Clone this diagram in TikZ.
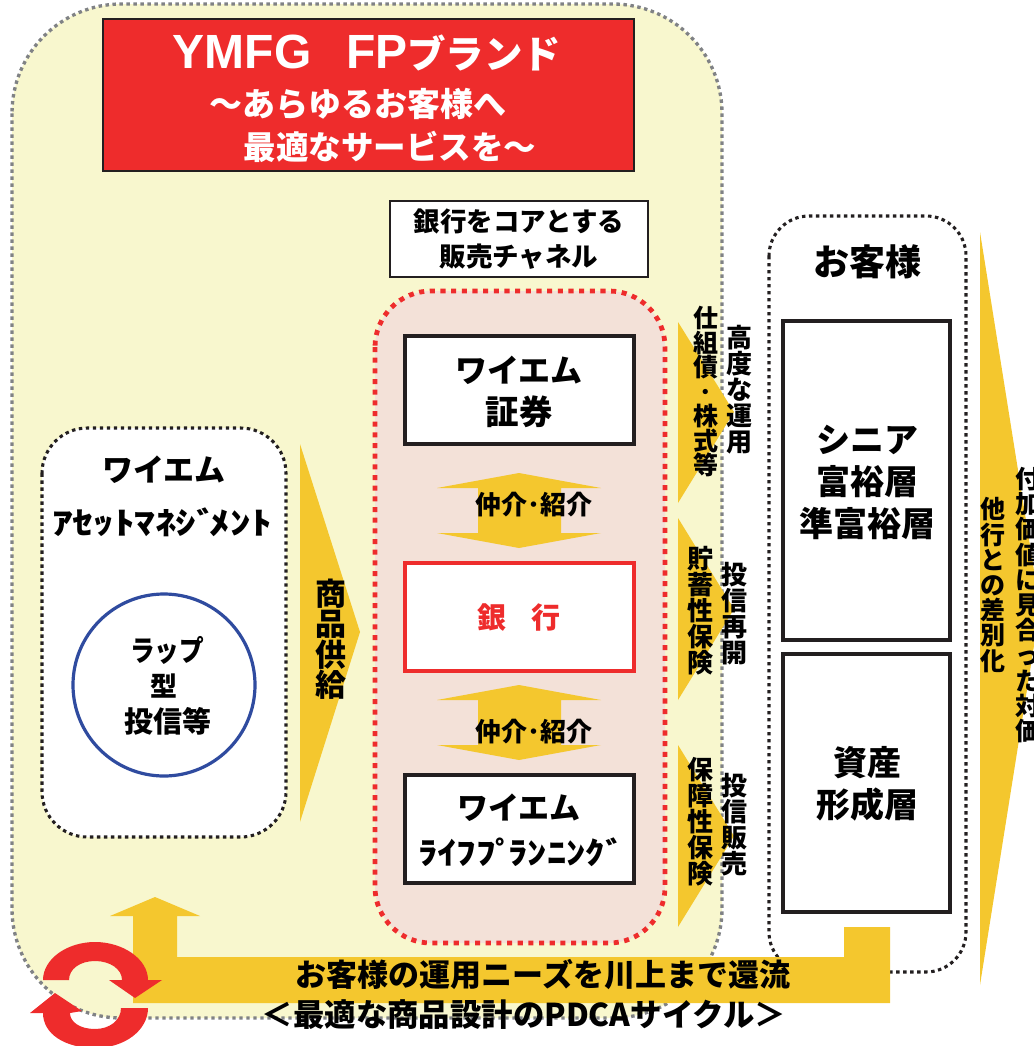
\documentclass[tikz,border=0pt]{standalone}
\usepackage{fontspec}
\usepackage{graphicx}
\setmainfont{Noto Sans CJK JP}
\newfontfamily\latfont{Liberation Sans}
\newcommand\fz[2]{\fontsize{\fpeval{0.75*#1}}{\fpeval{0.75*#2}}\selectfont\bfseries}
\definecolor{arrowy}{HTML}{F4C72E}
\definecolor{paley}{HTML}{F8F7CE}
\definecolor{palep}{HTML}{F3E1D8}
\definecolor{redm}{HTML}{EE2C2C}
\definecolor{grayd}{HTML}{808285}
\definecolor{darkl}{HTML}{231F20}
\definecolor{bluec}{HTML}{2F4B9F}
\tikzset{
  txt/.style={inner sep=0pt,align=center,text=black},
  hbox/.style={draw=darkl,line width=2.7pt,fill=white},
  arrowfill/.style={fill=arrowy,draw=none},
  graydot/.style={draw=grayd,line width=2.5pt,dash pattern=on 2.6pt off 2.65pt},
  blackdot/.style={draw=darkl,line width=2.3pt,dash pattern=on 2.6pt off 2.65pt},
  reddot/.style={draw=redm,line width=3.6pt,dash pattern=on 3.8pt off 4.2pt},
}
\begin{document}
\begin{tikzpicture}[x=0.75pt,y=-0.75pt]
\useasboundingbox (0,0) rectangle (1033,1046);
% outer panels
\path[fill=paley,graydot,rounded corners=82pt] (12,4) rectangle (722,1018);
\draw[fill=redm,draw=darkl,line width=1.6pt] (103,19) rectangle (634,171);
\draw[fill=white,draw=darkl,line width=1.6pt] (390,201) rectangle (648,277);
\path[fill=palep,reddot,rounded corners=42pt] (375,291) rectangle (665,943);
\path[fill=white,blackdot,rounded corners=34pt] (42,428) rectangle (286,837);
\path[fill=white,blackdot,rounded corners=30pt] (769,216) rectangle (966,972);
% inner boxes
\draw[hbox] (405,336) rectangle (634,444);
\draw[hbox,draw=redm] (405,563) rectangle (634,671);
\draw[hbox] (405,775) rectangle (634,883);
\draw[hbox] (783,321) rectangle (950,640);
\draw[hbox] (783,654) rectangle (950,912);
\draw[draw=bluec,line width=2.4pt,fill=white] (164,685) circle [radius=91];
% arrows
\fill[arrowfill] (300,444) -- (360,632) -- (300,822) -- cycle;
\fill[arrowfill] (519,473) -- (601,488) -- (561,488) -- (561,533) -- (601,533) -- (519,548) -- (437,533) -- (478,533) -- (478,488) -- (437,488) -- cycle;
\fill[arrowfill] (519,685) -- (601,700) -- (561,700) -- (561,745) -- (601,745) -- (519,760) -- (437,745) -- (478,745) -- (478,700) -- (437,700) -- cycle;
\fill[arrowfill] (678,322) -- (734,412) -- (678,503) -- cycle;
\fill[arrowfill] (678,518) -- (734,609) -- (678,700) -- cycle;
\fill[arrowfill] (678,745) -- (734,836) -- (678,927) -- cycle;
\fill[arrowfill] (980,232) -- (1040,608) -- (980,985) -- cycle;
\fill[arrowfill] (133,916) -- (133,1003) -- (890,1003) -- (890,927) -- (844,927) -- (844,957) -- (177,957) -- (177,916) -- (200,916) -- (155,897) -- (110,916) -- cycle;
% cycle arrows
\fill[redm] (43,980) .. controls (43,959) and (67,942) .. (95,942) .. controls (123,942) and (148,959) .. (148,980) -- (162,980) -- (135,998) -- (109,980) -- (122,980) .. controls (122,969) and (110,961) .. (95,961) .. controls (80,961) and (69,969) .. (69,980) -- cycle;
\fill[redm] (30,1013) -- (55,993) -- (82,1011) -- (70,1013) .. controls (70,1022) and (80,1029) .. (95,1029) .. controls (110,1029) and (121,1020) .. (121,1008) -- (148,1008) .. controls (148,1030) and (125,1048) .. (95,1048) .. controls (65,1048) and (43,1034) .. (43,1013) -- cycle;
% title
\node[txt,text=white,font=\fz{48}{48}] (t1) at (367,53) {{\latfont YMFG\hspace{26pt}FP}{\fz{38.5}{48}ブランド}};
\node[txt,text=white,font=\fz{33}{33}] (t2) at (358,104) {～あらゆるお客様へ};
\node[txt,text=white,font=\fz{32.5}{33}] (t3) at (390,147) {最適なサービスを～};
\node[txt,font=\fz{26.5}{35}] (chan) at (519,239) {銀行をコアとする\\販売チャネル};
\node[txt,font=\fz{36}{36}] (cust) at (867,262) {お客様};
% centre column
\node[txt,font=\fz{32}{32}] (sec1) at (519,370) {ワイエム};
\node[txt,font=\fz{33.5}{33}] (sec2) at (519,412) {証券};
\node[txt,text=redm,font=\fz{29}{29}] (bank) at (519,618) {銀\hspace{18.5pt}行};
\node[txt,font=\fz{26}{26}] (med1) at (534,505) {仲介･紹介};
\node[txt,font=\fz{26}{26}] (med2) at (534,732) {仲介･紹介};
\node[txt,font=\fz{31}{31}] (fp1) at (519,808) {ワイエム};
\node[txt,font=\fz{31}{31}] (fp2) at (518,852) {\scalebox{1.25}[1]{ﾗｲﾌﾌﾟ\kern-4ptﾗﾝﾆﾝｸﾞ\kern-4pt}};
% left column
\node[txt,font=\fz{31}{31}] (am1) at (164,470) {ワイエム};
\node[txt,font=\fz{31}{31}] (am2) at (162,522) {\scalebox{1.33}[1]{ｱｾｯﾄﾏﾈｼﾞ\kern-4ptﾒﾝﾄ}};
\node[txt,font=\fz{29}{29}] (wrap1) at (167,650) {\scalebox{0.85}[1]{ラップ}};
\node[txt,font=\fz{27}{27}] (wrap2) at (164,686) {型};
\node[txt,font=\fz{29}{29}] (wrap3) at (168,721) {投信等};
\node[txt,font=\fz{31}{30.5}] (sup) at (331,639) {商\\品\\供\\給};
% vertical labels
\node[txt,font=\fz{25}{24.5}] (v1) at (706,392) {仕\\組\\債\\･\\株\\式\\等};
\node[txt,font=\fz{26}{26}] (v2) at (739,390) {高\\度\\な\\運\\用};
\node[txt,font=\fz{26}{26}] (v3) at (700,611) {貯\\蓄\\性\\保\\険};
\node[txt,font=\fz{26}{26}] (v4) at (734,614) {投\\信\\再\\開};
\node[txt,font=\fz{26}{26}] (v5) at (700,822) {保\\障\\性\\保\\険};
\node[txt,font=\fz{26}{26}] (v6) at (734,825) {投\\信\\販\\売};
% customers
\node[txt,font=\fz{34}{42}] (c1) at (867,482) {シニア\\富裕層\\準富裕層};
\node[txt,font=\fz{34}{42}] (c2) at (867,784) {資産\\形成層};
% right
\node[txt,font=\fz{25}{25.2}] (r1) at (993,585) {他\\行\\と\\の\\差\\別\\化};
\node[txt,font=\fz{25}{25.2}] (r2) at (1028,605) {付\\加\\価\\値\\に\\見\\合\\っ\\た\\対\\価};
% bottom
\node[txt,font=\fz{31}{31}] (b1) at (543,975) {お客様の運用ニーズを川上まで還流};
\node[txt,font=\fz{31.4}{31}] (b2) at (524,1015) {＜最適な商品設計のPDCAサイクル＞};
\end{tikzpicture}
\end{document}
